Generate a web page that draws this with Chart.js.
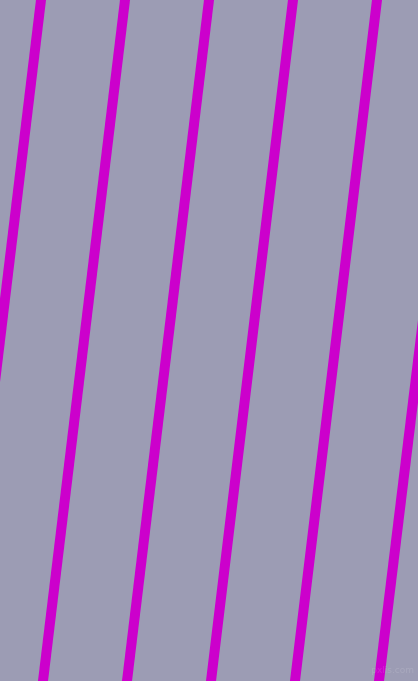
<!DOCTYPE html>
<html>
<head>
<meta charset="utf-8">
<script src="https://cdn.jsdelivr.net/npm/chart.js@4/dist/chart.umd.min.js"></script>
<style>
  html, body { margin: 0; padding: 0; background: #9c9cb4; overflow: hidden; }
  #wrap { position: relative; width: 418px; height: 681px; }
</style>
</head>
<body>
<div id="wrap"><canvas id="stripeChart"></canvas></div>
<script>
// stripe centre x where each stripe meets the top edge (y = 0) and bottom edge (y = 681)
const stripeTopX = [41, 125, 209, 293, 377, 462];
const stripeBottomX = [-41, 43, 127, 211, 295, 379];
const edgeY = [0, 681];

const stripeColor = '#cc00cc';
const bgColor = '#9c9cb4';

const datasets = stripeTopX.map((top, i) => ({
    data: [{ x: top, y: edgeY[0] }, { x: stripeBottomX[i], y: edgeY[1] }],
    borderColor: stripeColor,
    borderWidth: 10,
    borderCapStyle: 'square',
    showLine: true,
    pointRadius: 0,
    pointHoverRadius: 0
}));

// paints the backdrop and the small watermark in the corner
const backdrop = {
    id: 'backdrop',
    beforeDraw(chart) {
        const c = chart.ctx;
        c.save();
        c.fillStyle = bgColor;
        c.fillRect(0, 0, chart.width, chart.height);
        c.restore();
    },
    afterDraw(chart) {
        const c = chart.ctx;
        c.save();
        c.font = '9px "DejaVu Sans"';
        c.fillStyle = 'rgba(255, 255, 255, 0.13)';
        c.textAlign = 'right';
        c.textBaseline = 'alphabetic';
        c.fillText('pxlis.com', chart.width - 4, chart.height - 8);
        c.restore();
    }
};

new Chart(document.getElementById('stripeChart'), {
    type: 'scatter',
    data: { datasets },
    options: {
        responsive: true,
        maintainAspectRatio: false,
        animation: false,
        layout: { padding: 0 },
        plugins: {
            legend: { display: false },
            tooltip: { enabled: false }
        },
        scales: {
            x: { type: 'linear', min: 0, max: 418, display: false },
            y: { type: 'linear', min: 0, max: 681, reverse: true, display: false }
        }
    },
    plugins: [backdrop]
});
</script>
</body>
</html>
